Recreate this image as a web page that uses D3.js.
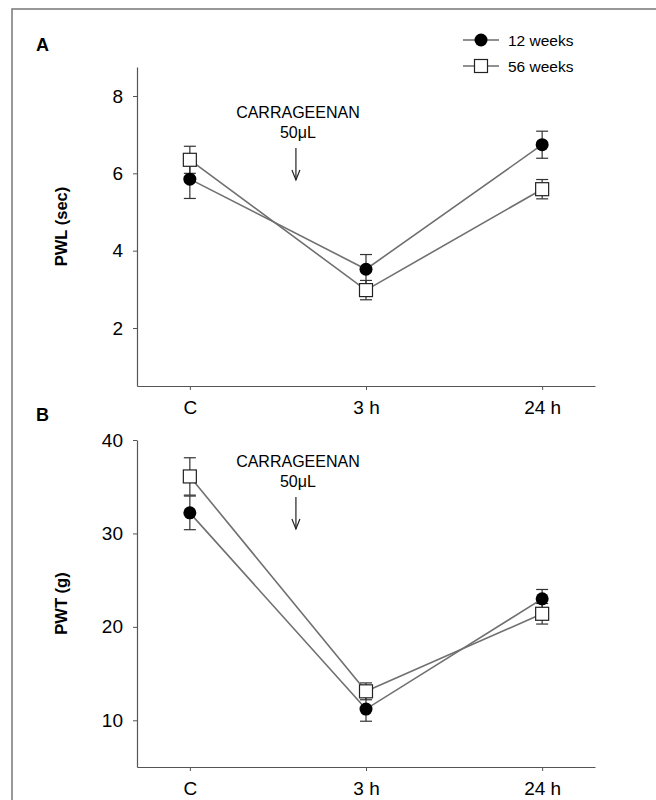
<!DOCTYPE html>
<html>
<head>
<meta charset="utf-8">
<script src="https://cdn.jsdelivr.net/npm/d3@7"></script>
<style>
  body { margin: 0; background: #fff; }
  svg text { font-family: "Liberation Sans", Arial, sans-serif; fill: #000; }
</style>
</head>
<body>
<div id="chart"></div>
<script>
// Data
var timepoints = ["C", "3 h", "24 h"];
var seriesNames = ["12 weeks", "56 weeks"];

// Panel A: PWL (sec)
var pwl12 = [5.85, 3.52, 6.74];
var pwl12Err = [0.50, 0.38, 0.35];
var pwl56 = [6.35, 2.98, 5.59];
var pwl56Err = [0.35, 0.25, 0.25];
var pwlTicks = [2, 4, 6, 8];

// Panel B: PWT (g)
var pwt12 = [32.2, 11.2, 23.0];
var pwt12Err = [1.8, 1.3, 1.0];
var pwt56 = [36.1, 13.1, 21.4];
var pwt56Err = [2.0, 0.9, 1.1];
var pwtTicks = [10, 20, 30, 40];

var W = 656, H = 800;
var svg = d3.select("#chart").append("svg")
  .attr("width", W)
  .attr("height", H);

// outer frame (cut off at right and bottom)
svg.append("rect")
  .attr("x", 12).attr("y", 9)
  .attr("width", 700).attr("height", 900)
  .attr("fill", "none")
  .attr("stroke", "#777")
  .attr("stroke-width", 1.5);

var x = d3.scalePoint()
  .domain(timepoints)
  .range([137, 595])
  .padding(0.3);

var lineColor = "#707070";

function drawPanel(opt) {
  var g = svg.append("g");
  var y = d3.scaleLinear().domain(opt.domain).range(opt.range);

  // axes
  var yAxis = g.append("g")
    .attr("transform", "translate(137,0)")
    .call(d3.axisLeft(y).tickValues(opt.ticks).tickSize(4).tickSizeOuter(0).tickPadding(10));
  var xAxis = g.append("g")
    .attr("transform", "translate(0," + opt.range[0] + ")")
    .call(d3.axisBottom(x).tickSize(4).tickSizeOuter(0).tickPadding(11));
  [yAxis, xAxis].forEach(function(a) {
    a.select(".domain").attr("stroke", "#555").attr("stroke-width", 1.2);
    a.selectAll(".tick line").attr("stroke", "#555");
    a.selectAll("text")
      .style("font-family", "Liberation Sans, Arial, sans-serif")
      .style("font-size", "19px")
      .attr("fill", "#000");
  });

  // panel letter
  g.append("text")
    .attr("x", 36).attr("y", opt.letterY)
    .style("font-size", "18px").style("font-weight", "bold")
    .text(opt.letter);

  // y title
  g.append("text")
    .attr("transform", "translate(67," + ((opt.range[0] + opt.range[1]) / 2) + ") rotate(-90)")
    .attr("text-anchor", "middle")
    .style("font-size", "16.5px").style("font-weight", "bold")
    .text(opt.title);

  // carrageenan annotation
  var ax = (x("C") + x("3 h")) / 2 + 18;
  g.append("text")
    .attr("x", ax + 2).attr("y", opt.annotY)
    .attr("text-anchor", "middle")
    .style("font-size", "16px")
    .text("CARRAGEENAN");
  g.append("text")
    .attr("x", ax + 2).attr("y", opt.annotY + 20)
    .attr("text-anchor", "middle")
    .style("font-size", "16px")
    .text("50μL");
  g.append("line")
    .attr("x1", ax).attr("x2", ax)
    .attr("y1", opt.annotY + 30).attr("y2", opt.annotY + 62)
    .attr("stroke", "#222").attr("stroke-width", 1.2);
  g.append("path")
    .attr("d", "M" + (ax - 4) + "," + (opt.annotY + 52) + "L" + ax + "," + (opt.annotY + 62) + "L" + (ax + 4) + "," + (opt.annotY + 52))
    .attr("fill", "none").attr("stroke", "#222").attr("stroke-width", 1.2);

  var series = [
    { vals: opt.s12, err: opt.e12, shape: "circle" },
    { vals: opt.s56, err: opt.e56, shape: "square" }
  ];

  var line = d3.line()
    .x(function(d, i) { return x(timepoints[i]); })
    .y(function(d) { return y(d); });

  series.forEach(function(s) {
    g.append("path")
      .datum(s.vals)
      .attr("d", line)
      .attr("fill", "none")
      .attr("stroke", lineColor)
      .attr("stroke-width", 1.6);
  });

  series.forEach(function(s) {
    s.vals.forEach(function(v, i) {
      var cx = x(timepoints[i]);
      var y0 = y(v - s.err[i]), y1 = y(v + s.err[i]);
      g.append("line").attr("x1", cx).attr("x2", cx).attr("y1", y0).attr("y2", y1)
        .attr("stroke", "#333").attr("stroke-width", 1.2);
      [y0, y1].forEach(function(yy) {
        g.append("line").attr("x1", cx - 6).attr("x2", cx + 6).attr("y1", yy).attr("y2", yy)
          .attr("stroke", "#333").attr("stroke-width", 1.2);
      });
    });
  });

  series.forEach(function(s) {
    s.vals.forEach(function(v, i) {
      var cx = x(timepoints[i]), cy = y(v);
      if (s.shape === "circle") {
        g.append("circle").attr("cx", cx).attr("cy", cy).attr("r", 6.5)
          .attr("fill", "#000");
      } else {
        g.append("rect").attr("x", cx - 6.5).attr("y", cy - 6.5)
          .attr("width", 13).attr("height", 13)
          .attr("fill", "#fff").attr("stroke", "#222").attr("stroke-width", 1.2);
      }
    });
  });
}

drawPanel({
  letter: "A", letterY: 51, title: "PWL (sec)",
  domain: [0.5, 8.75], range: [386, 67], ticks: pwlTicks,
  s12: pwl12, e12: pwl12Err, s56: pwl56, e56: pwl56Err,
  annotY: 118
});

drawPanel({
  letter: "B", letterY: 421, title: "PWT (g)",
  domain: [5, 40], range: [767, 440], ticks: pwtTicks,
  s12: pwt12, e12: pwt12Err, s56: pwt56, e56: pwt56Err,
  annotY: 467
});

// legend
var legend = svg.append("g").attr("transform", "translate(463,0)");
[40, 66].forEach(function(ly, i) {
  legend.append("line").attr("x1", 0).attr("x2", 36).attr("y1", ly).attr("y2", ly)
    .attr("stroke", "#222").attr("stroke-width", 1.2);
  if (i === 0) {
    legend.append("circle").attr("cx", 18).attr("cy", ly).attr("r", 6.5).attr("fill", "#000");
  } else {
    legend.append("rect").attr("x", 11.5).attr("y", ly - 6.5).attr("width", 13).attr("height", 13)
      .attr("fill", "#fff").attr("stroke", "#222").attr("stroke-width", 1.2);
  }
  legend.append("text").attr("x", 45).attr("y", ly + 5.5)
    .style("font-size", "15.5px")
    .text(seriesNames[i]);
});
</script>
</body>
</html>
